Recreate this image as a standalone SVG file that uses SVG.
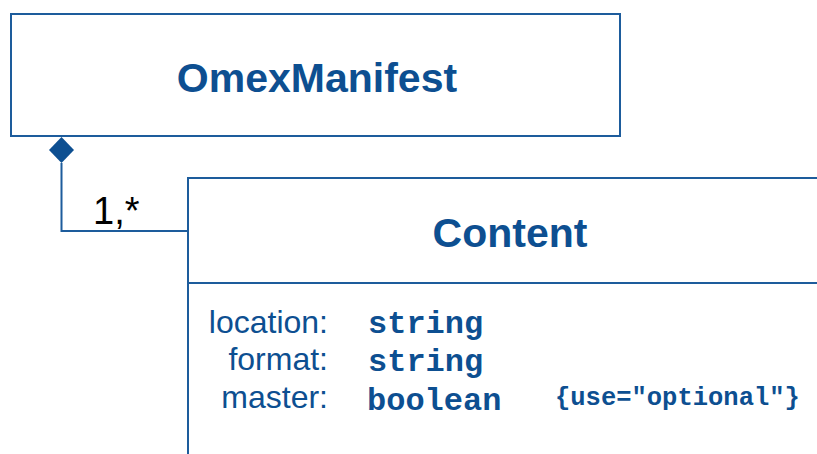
<svg xmlns="http://www.w3.org/2000/svg" width="817" height="454" viewBox="0 0 817 454">
<style>
.box{fill:#fff;stroke:#1d5c9c;stroke-width:2}
.title{font-family:"Liberation Sans",Arial,sans-serif;font-weight:bold;font-size:41px;fill:#0d4f91;text-anchor:middle}
.attr{font-family:"Liberation Sans",Arial,sans-serif;font-size:32px;fill:#0d4f91;text-anchor:end}
.type{font-family:"Liberation Mono","Courier New",monospace;font-weight:bold;font-size:32px;fill:#0d4f91}
.note{font-family:"Liberation Mono","Courier New",monospace;font-weight:bold;font-size:25.5px;fill:#0d4f91}
.conn{fill:none;stroke:#1d5c9c;stroke-width:2}
.lbl{font-family:"Liberation Sans",Arial,sans-serif;font-size:38px;fill:#000}
</style>
<rect width="817" height="454" fill="#fff"/>
<g id="connectors">
<polyline class="conn" points="61.5,163 61.5,231 188,231"/>
<polygon points="61.5,137 74,150 61.5,163 49,150" fill="#0d4f91"/>
<text class="lbl" x="93" y="224">1,*</text>
</g>
<g id="OmexManifest">
<rect class="box" x="11" y="14" width="609" height="122"/>
<text class="title" x="317" y="92">OmexManifest</text>
</g>
<g id="Content">
<rect class="box" x="188" y="178" width="660" height="300"/>
<line class="conn" x1="188" y1="283" x2="817" y2="283"/>
<text class="title" x="510" y="247">Content</text>
<text class="attr" x="328" y="333">location:</text>
<text class="type" x="368" y="333">string</text>
<text class="attr" x="328" y="370">format:</text>
<text class="type" x="368" y="371">string</text>
<text class="attr" x="328" y="408">master:</text>
<text class="type" x="367" y="410">boolean</text>
<text class="note" x="555" y="405">{use="optional"}</text>
</g>
</svg>
